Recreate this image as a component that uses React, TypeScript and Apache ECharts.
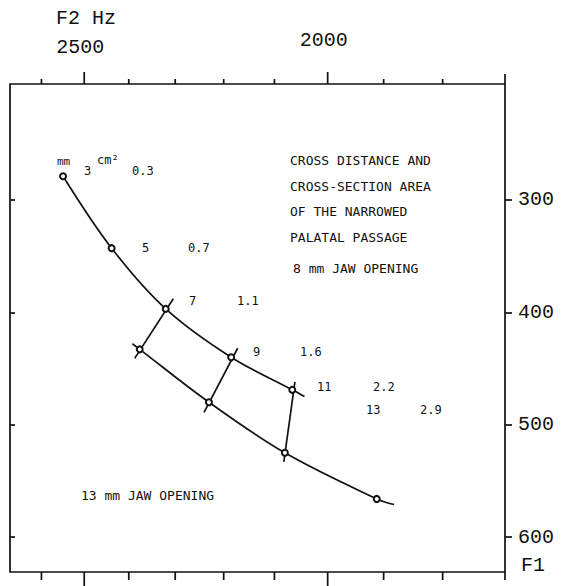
import { useEffect, useRef } from 'react';
import * as echarts from 'echarts';

// ---- data (F2 in Hz, F1 in Hz) ----
// 8 mm jaw opening curve (first..last drawn point)
const upperF2 = [2549, 2438, 2320, 2185, 2066, 2043];
const upperF1 = [279, 343, 397, 440, 469, 475];
const upperMarked = [true, true, true, true, true, false];

// 13 mm jaw opening curve
const lowerF2 = [2392, 2376, 2230, 2080, 1912, 1882];
const lowerF1 = [428, 433, 480, 525, 566, 571];
const lowerMarked = [false, true, true, true, true, false];

// connectors between equal cross distances (7, 9, 11 mm)
const connF2 = [[2304, 2387], [2172, 2240], [2061, 2082]];
const connF1 = [[388, 441], [432, 489], [462, 533]];

// cross distance (mm) and cross-section area (cm2)
const distanceMm = ['3', '5', '7', '9', '11', '13'];
const areaCm2 = ['0.3', '0.7', '1.1', '1.6', '2.2', '2.9'];

// axes
const f2Ticks = [2600, 2500, 2400, 2300, 2200, 2100, 2000, 1900, 1800, 1700];
const f2Labelled = [2500, 2000];
const f1Ticks = [300, 400, 500, 600];
const f2Range = [1700, 2676];
const f1Range = [197, 631];

const INK = '#111';
const TYPE = '"Liberation Mono", "DejaVu Sans Mono", monospace';
const PRINT = '"DejaVu Sans Mono", "Liberation Mono", monospace';

export default function App() {
  const ref = useRef<HTMLDivElement>(null);
  useEffect(() => {
    if (!ref.current) return;
    const chart = echarts.init(ref.current, undefined, { renderer: 'svg' });

    const curveData = (xs: number[], ys: number[], marked: boolean[]) =>
      xs.map((x, i) => (marked[i] ? { value: [x, ys[i]] } : { value: [x, ys[i]], symbol: 'none' }));

    const lineStyle = { color: INK, width: 1.7 };
    const itemStyle = { color: '#fff', borderColor: INK, borderWidth: 2 };

    // label placement (pixels) for the mm / cm2 table
    const mmPos = [[84, 171], [142, 248], [189, 301], [253, 352], [317, 387], [366, 410]];
    const areaPos = [[132, 171], [188, 248], [237, 301], [300, 352], [373, 387], [420, 410]];
    const labelLift = [27, 34]; // vertical offset of the 2500 / 2000 labels above the frame
    const smallFont = '12px ' + PRINT;
    const blockFont = '13px ' + PRINT;
    const txt = (text: string, x: number, y: number, font: string) => ({
      type: 'text',
      x,
      y,
      silent: true,
      style: { text, x: 0, y: 0, font, fill: INK, align: 'left', verticalAlign: 'middle', textAlign: 'left', textVerticalAlign: 'middle' },
    });

    const graphics: any[] = [
      txt('F2 Hz', 56, 18, '20px ' + TYPE),
      txt('F1', 521, 565, '20px ' + TYPE),
      txt('mm', 57, 161, '11px ' + PRINT),
      txt('cm²', 97, 160, '12px ' + PRINT),
      txt('CROSS DISTANCE AND', 290, 160, blockFont),
      txt('CROSS-SECTION AREA', 290, 186, blockFont),
      txt('OF THE NARROWED', 290, 211, blockFont),
      txt('PALATAL PASSAGE', 290, 237, blockFont),
      txt('8 mm JAW OPENING', 293, 268, blockFont),
      txt('13 mm JAW OPENING', 81, 495, blockFont),
    ];
    distanceMm.forEach((t, i) => graphics.push(txt(t, mmPos[i][0], mmPos[i][1], smallFont)));
    areaCm2.forEach((t, i) => graphics.push(txt(t, areaPos[i][0], areaPos[i][1], smallFont)));

    const connectorSeries = connF2.map((xs, k) => ({
      type: 'line',
      xAxisIndex: 0,
      yAxisIndex: 0,
      data: xs.map((x, i) => [x, connF1[k][i]]),
      symbol: 'none',
      lineStyle,
      silent: true,
      z: 3,
    }));

    const option: any = {
      animation: false,
      backgroundColor: '#fff',
      grid: { left: 10, right: 62, top: 84, bottom: 14, show: true, borderColor: INK, borderWidth: 1.7, backgroundColor: 'transparent' },
      xAxis: [
        {
          type: 'log', position: 'top', inverse: true, min: f2Range[0], max: f2Range[1],
          axisLine: { show: false }, axisTick: { show: false }, axisLabel: { show: false }, splitLine: { show: false },
        },
      ],
      yAxis: [
        {
          type: 'value', position: 'right', inverse: true, min: f1Range[0], max: f1Range[1],
          axisLine: { show: false }, splitLine: { show: false },
          axisTick: { show: true, customValues: f1Ticks, length: 7, lineStyle: { color: INK, width: 1.7 } },
          axisLabel: { show: true, customValues: f1Ticks, margin: 13, color: INK, fontSize: 20, fontFamily: TYPE },
        },
        {
          type: 'value', position: 'left', inverse: true, min: f1Range[0], max: f1Range[1],
          axisLine: { show: false }, splitLine: { show: false },
          axisTick: { show: true, inside: true, customValues: f1Ticks, length: 5, lineStyle: { color: INK, width: 1.7 } },
          axisLabel: { show: false },
        },
      ],
      series: [
        {
          type: 'custom',
          xAxisIndex: 0,
          yAxisIndex: 0,
          clip: false,
          silent: true,
          data: f2Ticks.map((f) => [f, 400]),
          encode: { x: 0, y: 1 },
          renderItem: (params: any, api: any) => {
            const f = api.value(0);
            const p = api.coord([f, api.value(1)]);
            const cs = params.coordSys;
            const top = cs.y;
            const bottom = cs.y + cs.height;
            const li = f2Labelled.indexOf(f);
            const major = li >= 0;
            const st = { stroke: INK, lineWidth: 1.7 };
            const children: any[] = [
              { type: 'line', shape: { x1: p[0], y1: top, x2: p[0], y2: top - (major ? 12 : f === 1700 ? 10 : 5) }, style: st },
              { type: 'line', shape: { x1: p[0], y1: bottom, x2: p[0], y2: bottom + (major ? 14 : 8) }, style: st },
            ];
            if (major) {
              children.push({
                type: 'text',
                x: p[0] - 4,
                y: top - labelLift[li],
                style: { text: String(f), font: '20px ' + TYPE, fill: INK, align: 'center', verticalAlign: 'bottom', textAlign: 'center', textVerticalAlign: 'bottom' },
              });
            }
            return { type: 'group', children };
          },
        },
        {
          type: 'line',
          xAxisIndex: 0,
          yAxisIndex: 0,
          data: curveData(upperF2, upperF1, upperMarked),
          smooth: 0.35,
          symbol: 'circle',
          symbolSize: 6,
          showAllSymbol: true,
          lineStyle,
          itemStyle,
          z: 4,
        },
        {
          type: 'line',
          xAxisIndex: 0,
          yAxisIndex: 0,
          data: curveData(lowerF2, lowerF1, lowerMarked),
          smooth: 0.35,
          symbol: 'circle',
          symbolSize: 6,
          showAllSymbol: true,
          lineStyle,
          itemStyle,
          z: 4,
        },
        ...connectorSeries,
      ],
      graphic: graphics,
    };

    chart.setOption(option);
    return () => chart.dispose();
  }, []);

  return <div ref={ref} style={{ position: 'fixed', left: 0, top: 0, width: 567, height: 586, background: '#fff' }} />;
}
